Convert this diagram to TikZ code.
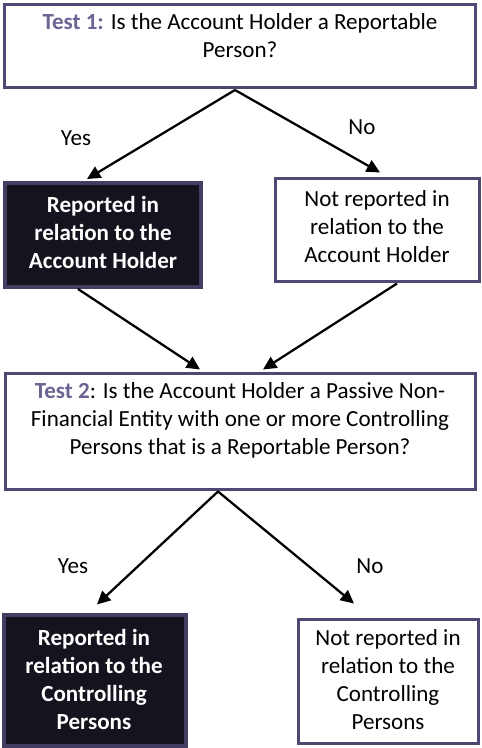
\documentclass[tikz,border=0pt]{standalone}
\usepackage{fontspec}
\setmainfont{Carlito}
\usetikzlibrary{arrows.meta,calc}
\definecolor{frame}{HTML}{4E4873}
\definecolor{darkfill}{HTML}{16131F}
\definecolor{testcol}{HTML}{6B6593}
\tikzset{
  whitebox/.style={draw=frame,line width=2.25pt,fill=white,rectangle,inner sep=0pt},
  darkbox/.style={draw=frame!85!black,line width=3pt,fill=darkfill,rectangle,inner sep=0pt},
  txt/.style={align=center,inner sep=0pt,font=\fontsize{17.3}{21}\selectfont},
  wtxt/.style={txt,text=white,font=\fontsize{17.3}{21}\selectfont\bfseries},
  lbl/.style={inner sep=0pt,font=\fontsize{17.3}{21}\selectfont},
  arr/.style={line width=1.7pt,-{Triangle[length=10pt,width=9.5pt]}}
}
\begin{document}
\begin{tikzpicture}[x=0.75pt,y=-0.75pt]
\useasboundingbox[fill=white] (0,0) rectangle (481,748);
% boxes
\node[whitebox,minimum width=353.25pt,minimum height=62.25pt] (top) at (240,46) {};
\node[darkbox,minimum width=147pt,minimum height=78pt] (rep1) at (103,235) {};
\node[whitebox,minimum width=153pt,minimum height=76.5pt] (nrep1) at (377,230) {};
\node[whitebox,minimum width=352.5pt,minimum height=87pt] (test2) at (240,431) {};
\node[darkbox,minimum width=136.5pt,minimum height=98.25pt] (rep2) at (95,680) {};
\node[whitebox,minimum width=135pt,minimum height=93pt] (nrep2) at (388,681) {};
% texts
\node[txt] (ttop) at (240,36) {{\color{testcol}\bfseries Test 1:} Is the Account Holder a Reportable\\Person?};
\node[wtxt] (trep1) at (103,232) {Reported in\\relation to the\\Account Holder};
\node[txt] (tnrep1) at (377,227) {Not reported in\\relation to the\\Account Holder};
\node[txt] (ttest2) at (240,420) {{\color{testcol}\bfseries Test 2}: Is the Account Holder a Passive Non-\\Financial Entity with one or more Controlling\\Persons that is a Reportable Person?};
\node[wtxt] (trep2) at (94,679) {Reported in\\relation to the\\Controlling\\Persons};
\node[txt] (tnrep2) at (388,680) {Not reported in\\relation to the\\Controlling\\Persons};
% labels
\node[lbl] (yes1) at (76,138) {Yes};
\node[lbl] (no1) at (362,127) {No};
\node[lbl] (yes2) at (73,566) {Yes};
\node[lbl] (no2) at (370,566) {No};
% arrows
\draw[arr] ($(top.south)+(-5,1)$) -- ($(rep1.north)+(-16,-2)$);
\draw[arr] ($(top.south)+(-5,1)$) -- ($(nrep1.north)+(3,-5)$);
\draw[arr] ($(rep1.south)+(-25,0)$) -- ($(test2.north)+(-40,-2)$);
\draw[arr] ($(nrep1.south)+(20,1)$) -- ($(test2.north)+(23,-2)$);
\draw[arr] ($(test2.south)+(-22,1)$) -- ($(rep2.north)+(2,-8)$);
\draw[arr] ($(test2.south)+(-22,1)$) -- ($(nrep2.north)+(-34,-14)$);
\end{tikzpicture}
\end{document}
